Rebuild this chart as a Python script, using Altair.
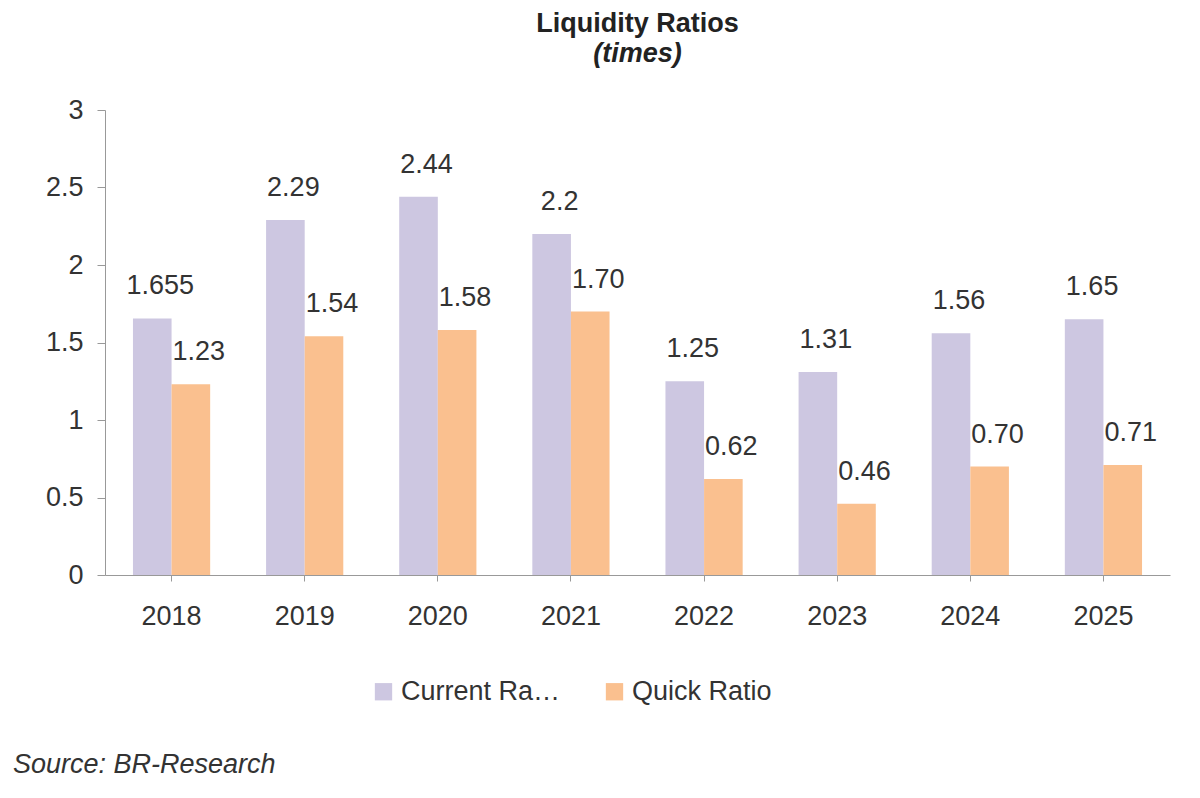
import pandas as pd
import altair as alt

years = ["2018", "2019", "2020", "2021", "2022", "2023", "2024", "2025"]
current = [1.655, 2.29, 2.44, 2.2, 1.25, 1.31, 1.56, 1.65]
current_lbl = ["1.655", "2.29", "2.44", "2.2", "1.25", "1.31", "1.56", "1.65"]
quick = [1.23, 1.54, 1.58, 1.70, 0.62, 0.46, 0.70, 0.71]
quick_lbl = ["1.23", "1.54", "1.58", "1.70", "0.62", "0.46", "0.70", "0.71"]

rows = []
for i, y in enumerate(years):
    rows.append({"year": y, "series": "Current Ratio", "value": current[i], "label": current_lbl[i]})
    rows.append({"year": y, "series": "Quick Ratio", "value": quick[i], "label": quick_lbl[i]})
df = pd.DataFrame(rows)

FONT = "Liberation Sans"
FS = 27
W, H = 1065, 465

x = alt.X("year:N", title=None, scale=alt.Scale(paddingInner=0.42, paddingOuter=0.21),
          axis=alt.Axis(labelAngle=0, labelFontSize=FS, labelColor="#333", labelPadding=22,
                        domainColor="#999", tickColor="#999", tickSize=6, labelFont=FONT))
color = alt.Color("series:N", title=None,
                  scale=alt.Scale(domain=["Current Ratio", "Quick Ratio"], range=["#cdc7e1", "#fac08f"]),
                  legend=alt.Legend(orient="none", legendX=265, legendY=H + 103, direction="horizontal",
                                    symbolType="square", symbolSize=300, labelFontSize=FS,
                                    labelColor="#333", labelFont=FONT, columnPadding=40))

base = alt.Chart(df).encode(x=x, xOffset=alt.XOffset("series:N", scale=alt.Scale(paddingInner=0)))
bars = base.mark_bar().encode(
    y=alt.Y("value:Q", title=None, scale=alt.Scale(domain=[0, 3]),
            axis=alt.Axis(values=[0, 0.5, 1, 1.5, 2, 2.5, 3], format="~g", grid=False, labelFontSize=FS,
                          labelColor="#333", domainColor="#999", tickColor="#999", tickSize=8,
                          labelPadding=14, labelFont=FONT)),
    color=color,
)
labels = base.mark_text(dy=-32, dx=8, fontSize=FS, color="#333", font=FONT).encode(
    y="value:Q", text="label:N")
source = alt.Chart(pd.DataFrame({"t": ["Source: BR-Research"]})).mark_text(
    align="left", fontSize=FS, fontStyle="italic", color="#333", font=FONT
).encode(x=alt.value(-92), y=alt.value(H + 190), text="t:N")

chart = alt.layer(bars, labels, source).properties(
    width=W, height=H,
    title=alt.TitleParams("Liquidity Ratios", subtitle="(times)", fontSize=FS, font=FONT,
                          subtitleFont=FONT, subtitleFontSize=FS, subtitleFontStyle="italic",
                          subtitleFontWeight="bold", color="#222", subtitleColor="#222", offset=28),
    autosize=alt.AutoSizeParams(type="none"),
    padding={"left": 97, "top": 102, "right": 10, "bottom": 215},
).configure_view(stroke=None)

chart.save("out.html", embed_options={"renderer": "svg", "actions": False})
